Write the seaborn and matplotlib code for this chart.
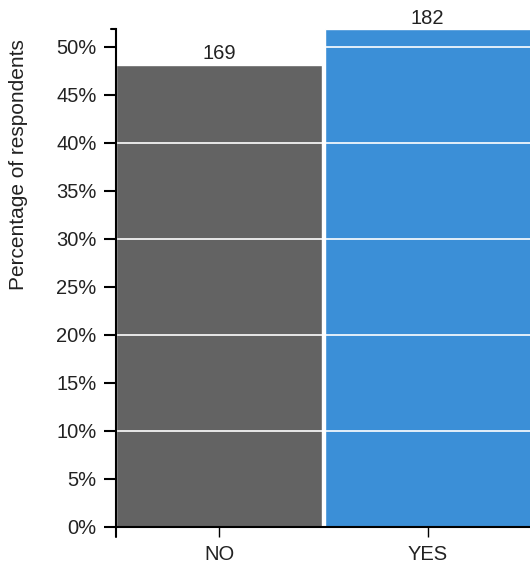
import matplotlib
matplotlib.use("Agg")
import matplotlib.pyplot as plt
import seaborn as sns
import pandas as pd
from matplotlib.ticker import MultipleLocator, PercentFormatter

# data
answers = ["NO", "YES"]
counts = [169, 182]
bar_colors = ["#636363", "#3b8fd7"]
grid_levels = [0.10, 0.20, 0.30, 0.40, 0.50]

total = sum(counts)
shares = [c / total for c in counts]
df = pd.DataFrame({"answer": answers, "share": shares, "count": counts})

sns.set_style("white")
plt.rcParams["font.family"] = ["Liberation Sans", "DejaVu Sans"]

fig = plt.figure(figsize=(5.30, 5.68), dpi=100)
ax = fig.add_axes([116 / 530, 41 / 568, 417 / 530, 498 / 568])

sns.barplot(data=df, x="answer", y="share", hue="answer",
            palette=dict(zip(answers, bar_colors)), width=0.99,
            saturation=1, legend=False, ax=ax, zorder=1)

ax.set_xlim(-0.495, 1.505)
ax.set_ylim(0, max(shares))

# white grid lines drawn over the bars
for g in grid_levels:
    ax.axhline(g, color="white", lw=1.2, zorder=3)

# count labels above bars
for i, (s, c) in enumerate(zip(shares, counts)):
    ax.annotate(str(c), (i, s), xytext=(0, 1), textcoords="offset points",
                ha="center", va="bottom", fontsize=14.5, color="#222222")

ax.yaxis.set_major_locator(MultipleLocator(0.05))
ax.yaxis.set_major_formatter(PercentFormatter(1.0, decimals=0))

sns.despine(ax=ax)
for side in ["left", "bottom"]:
    ax.spines[side].set_linewidth(1.5)
    ax.spines[side].set_color("black")
    ax.spines[side].set_zorder(4)

ax.tick_params(axis="both", which="major", length=9, width=1.5, color="black",
               labelsize=14.5, labelcolor="#222222", left=True, bottom=True)
ax.tick_params(axis="y", pad=5)
ax.tick_params(axis="x", pad=6, width=1.0, length=7)

# outer ticks of the axis domains
ax.plot([-0.012, 0], [1, 1], transform=ax.transAxes, color="black", lw=1.5, clip_on=False)
ax.plot([0, 0], [0, -0.02], transform=ax.transAxes, color="black", lw=1.5, clip_on=False)

ax.set_xlabel("")
ax.set_ylabel("Percentage of respondents", fontsize=15, color="#222222", va="center")
ax.yaxis.set_label_coords(-0.235, 0.727)

fig.savefig("out.png", dpi=100)
